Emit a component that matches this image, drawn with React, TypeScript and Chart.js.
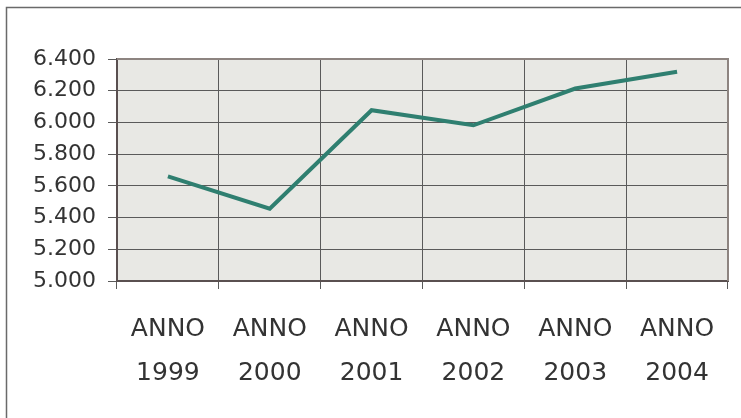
import React, { useEffect, useRef } from "react";
import { Chart, registerables } from "chart.js";

Chart.register(...registerables);

const categories: string[][] = [
  ["ANNO", "1999"],
  ["ANNO", "2000"],
  ["ANNO", "2001"],
  ["ANNO", "2002"],
  ["ANNO", "2003"],
  ["ANNO", "2004"],
];
const values: number[] = [5660, 5456, 6077, 5982, 6214, 6320];
const yMin = 5000;
const yMax = 6400;
const yStep = 200;

const fmt = (v: number) => {
  const s = Math.round(v).toString();
  return s.length > 3 ? s.slice(0, s.length - 3) + "." + s.slice(-3) : s;
};

const framePlugin = {
  id: "frame",
  beforeDraw(chart: any) {
    const { ctx, chartArea } = chart;
    ctx.save();
    ctx.fillStyle = "#ffffff";
    ctx.fillRect(0, 0, chart.width, chart.height);
    ctx.fillStyle = "#e8e8e4";
    ctx.fillRect(chartArea.left, chartArea.top, chartArea.right - chartArea.left, chartArea.bottom - chartArea.top);
    ctx.restore();
  },
  afterDraw(chart: any) {
    const { ctx, chartArea } = chart;
    ctx.save();
    ctx.strokeStyle = "#8d8480";
    ctx.lineWidth = 2;
    ctx.beginPath();
    ctx.moveTo(chartArea.left, chartArea.top);
    ctx.lineTo(chartArea.right, chartArea.top);
    ctx.lineTo(chartArea.right, chartArea.bottom);
    ctx.stroke();
    ctx.strokeStyle = "#6a6a6a";
    ctx.lineWidth = 1.5;
    ctx.beginPath();
    ctx.moveTo(6.5, chart.height + 5);
    ctx.lineTo(6.5, 7.5);
    ctx.lineTo(chart.width + 5, 7.5);
    ctx.stroke();
    ctx.restore();
  },
};

export default function App() {
  const ref = useRef<HTMLCanvasElement | null>(null);
  useEffect(() => {
    document.body.style.margin = "0";
    document.body.style.overflow = "hidden";
    document.documentElement.style.background = "#ffffff";
    if (!ref.current) return;
    const chart = new Chart(ref.current, {
      type: "line",
      data: {
        labels: categories,
        datasets: [
          {
            data: values,
            borderColor: "#2f7f70",
            borderWidth: 4,
            pointRadius: 0,
            tension: 0,
            fill: false,
          },
        ],
      },
      options: {
        animation: false,
        responsive: false,
        plugins: { legend: { display: false }, tooltip: { enabled: false } },
        layout: { padding: { left: 0, right: 13, top: 59, bottom: 0 } },
        scales: {
          x: {
            offset: true,
            grid: { offset: true, color: "#5a5a5a", lineWidth: 1, tickLength: 8, drawOnChartArea: true },
            border: { color: "#5a5050", width: 2 },
            ticks: {
              color: "#333333",
              font: { family: "DejaVu Sans", size: 25, lineHeight: 1.75 },
              padding: 19,
              maxRotation: 0,
              autoSkip: false,
            },
            afterFit(scale: any) {
              scale.height = 137;
            },
          },
          y: {
            min: yMin,
            max: yMax,
            grid: { color: "#5a5a5a", lineWidth: 1, tickLength: 9 },
            border: { color: "#5a5050", width: 2 },
            ticks: {
              stepSize: yStep,
              color: "#333333",
              font: { family: "DejaVu Sans", size: 22 },
              padding: 12,
              callback: (v: any) => fmt(Number(v)),
            },
            afterFit(scale: any) {
              scale.width = 117;
            },
          },
        },
      },
      plugins: [framePlugin],
    });
    return () => chart.destroy();
  }, []);
  return (
    <div style={{ position: "fixed", left: 0, top: 0, width: 741, height: 418, background: "#fff", overflow: "hidden" }}>
      <canvas ref={ref} width={741} height={418} style={{ display: "block" }} />
    </div>
  );
}
